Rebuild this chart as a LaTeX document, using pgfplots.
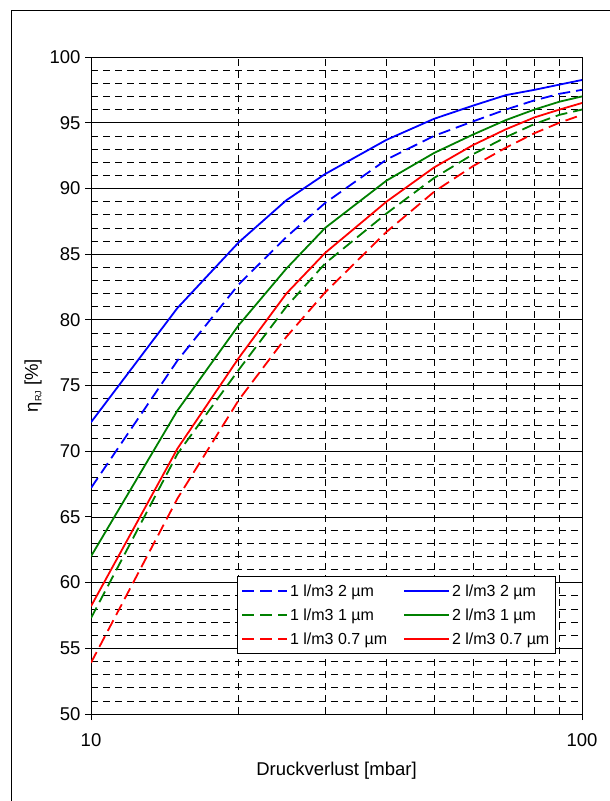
\documentclass[border=0pt]{standalone}
\usepackage{pgfplots}
\pgfplotsset{compat=1.18}
\usepackage{fontspec}
\setmainfont{Liberation Sans}
\definecolor{xblue}{RGB}{0,0,255}
\definecolor{xgreen}{RGB}{0,128,0}
\definecolor{xred}{RGB}{255,0,0}
\begin{document}
\begin{tikzpicture}
\useasboundingbox (0,0) rectangle (610bp,801bp);
\draw[line width=0.8bp] (11bp,-20bp) -- (11bp,791bp) -- (640bp,791bp);
\begin{axis}[
  at={(91bp,87bp)}, anchor=south west,
  width=491bp, height=657bp, scale only axis,
  xmode=log, xmin=10, xmax=100, ymin=50, ymax=100,
  xtick={10,100}, xticklabels={10,100},
  minor xtick={20,30,40,50,60,70,80,90},
  ytick={50,55,...,100},
  minor y tick num=4,
  grid=both,
  major grid style={black, line width=0.6bp},
  minor grid style={black, line width=0.6bp, dash pattern=on 7bp off 5bp},
  axis line style={black, line width=0.9bp},
  tick align=outside, major tick length=6bp, minor tick length=0pt,
  tick style={black, line width=0.8bp},
  xtick pos=bottom, ytick pos=left,
  /pgf/number format/assume math mode=true,
  tick label style={font=\fontsize{18.5bp}{22bp}\selectfont},
  xticklabel style={yshift=-10bp},
  yticklabel style={xshift=-1bp},
  label style={font=\fontsize{18.5bp}{22bp}\selectfont},
  xlabel={Druckverlust [mbar]},
  xlabel style={at={(axis description cs:0.5,-0.087)}, anchor=center},
  ylabel={η\raisebox{-0.35ex}{\fontsize{9bp}{10bp}\selectfont RJ} [\%]},
  ylabel style={at={(axis description cs:-0.118,0.5)}, anchor=center},
  legend columns=2,
  legend cell align=left,
  legend style={at={(rel axis cs:0.297,0.21)}, anchor=north west,
    draw=black, line width=0.8bp, fill=white,
    font=\fontsize{16bp}{19bp}\selectfont,
    inner xsep=4bp, inner ysep=6bp, row sep=7bp,
    /tikz/every even column/.append style={column sep=14bp}},
  legend image code/.code={\draw[#1] plot coordinates {(0bp,0bp) (45bp,0bp)};},
  every axis plot/.append style={line width=1.8bp},
]
\addplot[xblue, dash pattern=on 12bp off 6bp] coordinates {(10,67.2)(15,76.9)(20,82.7)(25,86.3)(30,88.9)(40,92.2)(50,94.0)(60,95.1)(70,96.0)(80,96.7)(90,97.2)(100,97.5)};
\addlegendentry{1 l/m3 2 µm}
\addplot[xblue] coordinates {(10,72.2)(15,80.9)(20,85.9)(25,89.1)(30,91.1)(40,93.7)(50,95.3)(60,96.3)(70,97.1)(80,97.5)(90,97.9)(100,98.25)};
\addlegendentry{2 l/m3 2 µm}
\addplot[xgreen, dash pattern=on 12bp off 6bp] coordinates {(10,57.3)(15,69.8)(20,76.2)(25,81.0)(30,84.3)(40,88.1)(50,90.8)(60,92.6)(70,93.9)(80,94.9)(90,95.6)(100,96.0)};
\addlegendentry{1 l/m3 1 µm}
\addplot[xgreen] coordinates {(10,62.0)(15,73.1)(20,79.6)(25,83.9)(30,87.0)(40,90.6)(50,92.7)(60,94.1)(70,95.2)(80,96.0)(90,96.6)(100,97.0)};
\addlegendentry{2 l/m3 1 µm}
\addplot[xred, dash pattern=on 12bp off 6bp] coordinates {(10,53.9)(15,66.4)(20,73.9)(25,78.7)(30,82.1)(40,86.7)(50,89.75)(60,91.7)(70,93.1)(80,94.2)(90,95.0)(100,95.6)};
\addlegendentry{1 l/m3 0.7 µm}
\addplot[xred] coordinates {(10,58.2)(15,70.2)(20,77.1)(25,82.0)(30,85.1)(40,89.0)(50,91.6)(60,93.3)(70,94.5)(80,95.4)(90,96.0)(100,96.5)};
\addlegendentry{2 l/m3 0.7 µm}
\end{axis}
\end{tikzpicture}
\end{document}
